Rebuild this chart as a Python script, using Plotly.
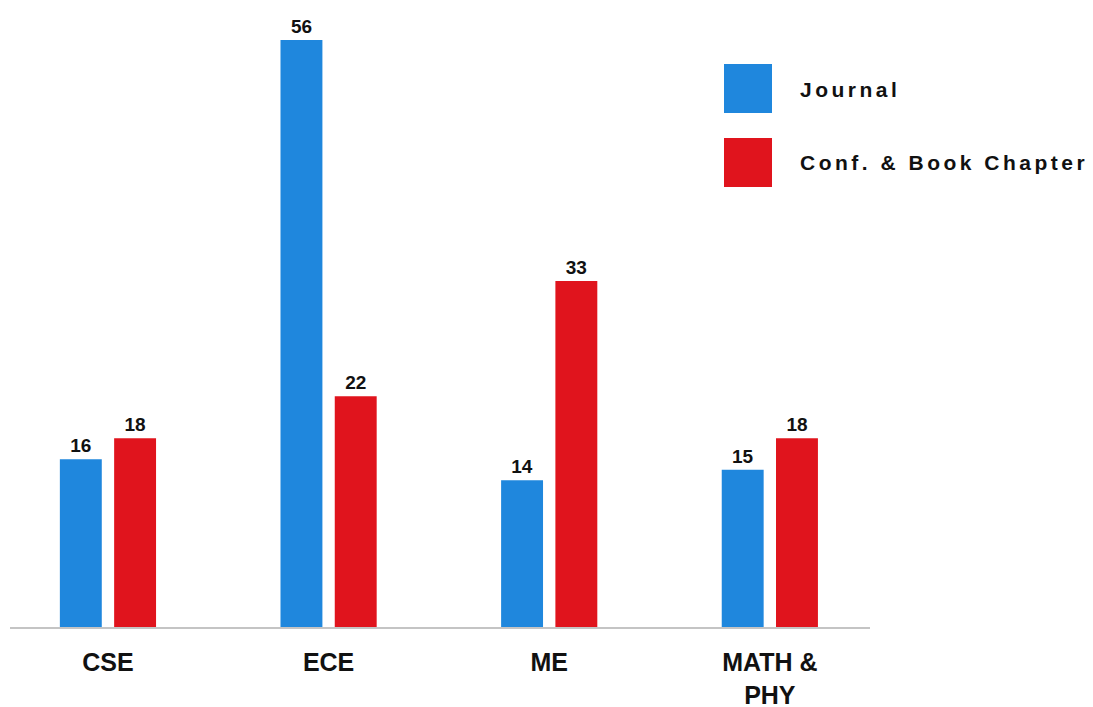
import plotly.graph_objects as go

categories = ["CSE", "ECE", "ME", "MATH &<br>PHY"]
series_names = ["Journal", "Conf. & Book Chapter"]
journal = [16, 56, 14, 15]
conf_book = [18, 22, 33, 18]

BLUE = "#1f87dd"
RED = "#e0141d"
FONT = "Liberation Sans, Arial, sans-serif"

# page body adds an 8px offset; positions below are in page pixels
OFF = 8
W, H = 1093, 707
L, R, T, B = 10 - OFF, 223 + OFF, 20 - OFF, 80 + OFF
pw, ph = W - L - R, H - T - B

def px_x(p):
    return (p - OFF - L) / pw

def px_y(p):
    return (H - B - (p - OFF)) / ph

fig = go.Figure()
for name, vals, col, off in [(series_names[0], journal, BLUE, -0.218),
                             (series_names[1], conf_book, RED, 0.028)]:
    fig.add_trace(go.Bar(
        x=categories, y=vals, name=name, marker_color=col, marker_line_width=0,
        width=0.19, offset=off,
        text=[str(v) for v in vals], textposition="outside",
        textfont=dict(family=FONT, size=19, color="#111111", weight="bold"),
        cliponaxis=False, showlegend=False,
    ))

# legend drawn as large swatches + labels
for name, col, top in [(series_names[0], BLUE, 64), (series_names[1], RED, 138)]:
    fig.add_shape(type="rect", xref="paper", yref="paper",
                  x0=px_x(724), x1=px_x(772), y0=px_y(top + 49), y1=px_y(top),
                  fillcolor=col, line_width=0)
    fig.add_annotation(xref="paper", yref="paper", x=px_x(798), y=px_y(top + 25),
                       xanchor="left", yanchor="middle", showarrow=False,
                       text=f'<span style="letter-spacing:3.5px">{name.replace("&", "&amp;")}</span>',
                       font=dict(family=FONT, size=21, color="#111111", weight="bold"))

fig.update_layout(
    width=W, height=H,
    margin=dict(l=L, r=R, t=T, b=B, autoexpand=False),
    paper_bgcolor="white", plot_bgcolor="white",
    barmode="group",
    xaxis=dict(type="category", range=[-0.444, 3.454], automargin=False,
               showline=True, linecolor="#c4c4c4", linewidth=2,
               showgrid=False, zeroline=False,
               ticks="outside", ticklen=12, tickcolor="rgba(0,0,0,0)",
               tickfont=dict(family=FONT, size=25, color="#111111", weight="bold")),
    yaxis=dict(range=[0, 57.9], visible=False, showgrid=False, zeroline=False,
               automargin=False),
)

fig.write_html("out.html")
